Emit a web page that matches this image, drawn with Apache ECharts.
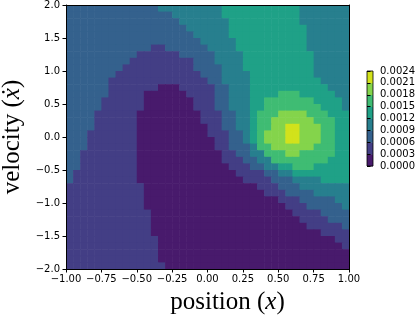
<!DOCTYPE html>
<html>
<head>
<meta charset="utf-8">
<script src="https://cdn.jsdelivr.net/npm/echarts@6/dist/echarts.min.js"></script>
<style>
html, body { margin: 0; padding: 0; background: #fff; }
#chart-panel { width: 416px; height: 322px; }
</style>
</head>
<body>
<div id="chart-panel"></div>
<script>
// contour levels of the colour bar
var levels = [0, 0.0003, 0.0006, 0.0009, 0.0012, 0.0015, 0.0018, 0.0021, 0.0024];
var bandColors = ['#481a6c', '#433e85', '#34618d', '#277f8e', '#1fa187', '#3fbc73', '#84d44b', '#d2e21b'];

// grid of the map: 40 columns of 0.05 in x, 40 rows of 0.1 in y (top row first)
var xStart = -1, xStep = 0.05, nCols = 40;
var yStart = 2, yStep = 0.1;

// band index (0..7), each row run-length coded as [band, count]
var bandRows = [
    [[2,13],[3,9],[4,11],[3,7]],
    [[2,15],[3,7],[4,11],[3,7]],
    [[2,16],[3,7],[4,10],[3,7]],
    [[2,17],[3,6],[4,11],[3,6]],
    [[2,18],[3,5],[4,11],[3,6]],
    [[2,19],[3,5],[4,10],[3,6]],
    [[2,12],[1,2],[2,6],[3,4],[4,10],[3,6]],
    [[2,10],[1,6],[2,5],[3,4],[4,10],[3,5]],
    [[2,9],[1,9],[2,3],[3,4],[4,10],[3,5]],
    [[2,8],[1,10],[2,4],[3,3],[4,10],[3,5]],
    [[2,7],[1,12],[2,3],[3,4],[4,9],[3,5]],
    [[2,6],[1,14],[2,2],[3,4],[4,10],[3,4]],
    [[2,6],[1,7],[0,3],[1,5],[2,2],[3,3],[4,11],[3,3]],
    [[2,6],[1,5],[0,6],[1,4],[2,2],[3,3],[4,4],[5,3],[4,5],[3,2]],
    [[2,5],[1,6],[0,7],[1,3],[2,2],[3,3],[4,2],[5,7],[4,4],[3,1]],
    [[2,5],[1,6],[0,7],[1,3],[2,2],[3,3],[4,2],[5,8],[4,3],[3,1]],
    [[2,4],[1,6],[0,9],[1,3],[2,2],[3,2],[4,1],[5,3],[6,4],[5,3],[4,3]],
    [[2,4],[1,6],[0,9],[1,3],[2,2],[3,2],[4,1],[5,2],[6,6],[5,3],[4,2]],
    [[2,4],[1,6],[0,10],[1,2],[2,2],[3,2],[4,1],[5,2],[6,2],[7,2],[6,3],[5,2],[4,2]],
    [[2,3],[1,7],[0,10],[1,3],[2,2],[3,1],[4,1],[5,1],[6,3],[7,2],[6,3],[5,2],[4,2]],
    [[2,3],[1,7],[0,11],[1,2],[2,2],[3,1],[4,1],[5,1],[6,3],[7,2],[6,3],[5,2],[4,2]],
    [[2,3],[1,7],[0,11],[1,2],[2,3],[3,1],[5,2],[6,6],[5,3],[4,2]],
    [[2,2],[1,8],[0,12],[1,2],[2,2],[3,2],[5,3],[6,2],[5,5],[4,2]],
    [[2,2],[1,8],[0,12],[1,3],[2,2],[3,2],[5,8],[4,3]],
    [[2,2],[1,8],[0,13],[1,3],[2,2],[3,2],[4,2],[5,3],[4,5]],
    [[2,1],[1,9],[0,14],[1,4],[2,2],[3,2],[4,8]],
    [[2,1],[1,9],[0,15],[1,4],[2,3],[3,4],[4,4]],
    [[1,11],[0,16],[1,3],[2,3],[3,7]],
    [[1,11],[0,17],[1,3],[2,4],[3,5]],
    [[1,11],[0,19],[1,3],[2,5],[3,2]],
    [[1,11],[0,20],[1,3],[2,5],[3,1]],
    [[1,12],[0,20],[1,4],[2,4]],
    [[1,12],[0,21],[1,4],[2,3]],
    [[1,12],[0,22],[1,5],[2,1]],
    [[1,12],[0,24],[1,4]],
    [[1,13],[0,25],[1,2]],
    [[1,13],[0,26],[1,1]],
    [[1,13],[0,27]],
    [[1,13],[0,27]],
    [[1,14],[0,26]]
];

var cells = [];
bandRows.forEach(function (runs, j) {
    var y = yStart - yStep * (j + 0.5);
    var i = 0;
    runs.forEach(function (run) {
        for (var k = 0; k < run[1]; k++) {
            cells.push([xStart + xStep * (i + 0.5), y, run[0]]);
            i++;
        }
    });
    if (i !== nCols) console.warn('row ' + j + ' has ' + i + ' cells');
});

var bands = bandColors.map(function (c, idx) {
    return [idx, levels[idx], levels[idx + 1]];
});

function minus(s) { return s.replace('-', '\u2212'); }

var tickFont = { color: '#000', fontSize: 10, fontFamily: 'DejaVu Sans' };
var blackLine = { show: true, onZero: false, lineStyle: { color: '#000', width: 1 } };
var tick = { show: true, length: 3.5, lineStyle: { color: '#000', width: 1 } };

var myChart = echarts.init(document.getElementById('chart-panel'));

myChart.setOption({
    backgroundColor: '#fff',
    animation: false,
    grid: [
        { left: 66, top: 5, width: 283, height: 264, containLabel: false, outerBoundsMode: 'none' },
        { left: 367, top: 71, width: 6, height: 95, containLabel: false, outerBoundsMode: 'none' }
    ],
    xAxis: [
        {
            type: 'value', gridIndex: 0, min: -1, max: 1, interval: 0.25, position: 'bottom', z: 10,
            axisLine: blackLine, axisTick: tick, splitLine: { show: false },
            axisLabel: Object.assign({ margin: 5, showMinLabel: true, showMaxLabel: true,
                formatter: function (v) { return minus(v.toFixed(2)); } }, tickFont),
            name: 'position ({i|x})', nameLocation: 'middle', nameGap: 21,
            nameTextStyle: {
                fontFamily: 'Liberation Serif', fontSize: 25, color: '#000', padding: [0, 0, 0, 40],
                rich: { i: { fontFamily: 'Liberation Serif', fontStyle: 'italic', fontSize: 25, color: '#000' } }
            }
        },
        {
            type: 'value', gridIndex: 0, min: -1, max: 1, position: 'top', z: 10,
            axisLine: blackLine, axisTick: { show: false }, axisLabel: { show: false }, splitLine: { show: false }
        },
        {
            type: 'value', gridIndex: 1, min: 0, max: 1, show: false
        }
    ],
    yAxis: [
        {
            type: 'value', gridIndex: 0, min: -2, max: 2, interval: 0.5, position: 'left', z: 10,
            axisLine: blackLine, axisTick: tick, splitLine: { show: false },
            axisLabel: Object.assign({ margin: 6, showMinLabel: true, showMaxLabel: true,
                formatter: function (v) { return minus(v.toFixed(1)); } }, tickFont),
            name: 'velocity ({i|\u1e8b})', nameLocation: 'middle', nameGap: 40,
            nameTextStyle: {
                fontFamily: 'Liberation Serif', fontSize: 25, color: '#000',
                rich: { i: { fontFamily: 'Liberation Serif', fontStyle: 'italic', fontSize: 25, color: '#000' } }
            }
        },
        {
            type: 'value', gridIndex: 0, min: -2, max: 2, position: 'right', z: 10,
            axisLine: blackLine, axisTick: { show: false }, axisLabel: { show: false }, splitLine: { show: false }
        },
        {
            type: 'value', gridIndex: 1, min: 0, max: 0.0024, interval: 0.0003, position: 'right', z: 10,
            axisLine: { show: false }, axisTick: tick, splitLine: { show: false },
            axisLabel: Object.assign({ margin: 7, showMinLabel: true, showMaxLabel: true,
                formatter: function (v) { return v.toFixed(4); } }, tickFont)
        }
    ],
    series: [
        {
            type: 'custom',
            xAxisIndex: 0, yAxisIndex: 0,
            clip: true,
            silent: true,
            data: cells,
            renderItem: function (params, api) {
                var x = api.value(0), y = api.value(1);
                var p0 = api.coord([x - xStep / 2, y + yStep / 2]);
                var p1 = api.coord([x + xStep / 2, y - yStep / 2]);
                return {
                    type: 'rect',
                    shape: { x: p0[0], y: p0[1], width: p1[0] - p0[0] + 0.6, height: p1[1] - p0[1] + 0.6 },
                    style: { fill: bandColors[api.value(2)] }
                };
            }
        },
        {
            type: 'custom',
            xAxisIndex: 2, yAxisIndex: 2,
            silent: true,
            data: bands,
            renderItem: function (params, api) {
                var p0 = api.coord([0, api.value(2)]);
                var p1 = api.coord([1, api.value(1)]);
                return {
                    type: 'rect',
                    shape: { x: p0[0], y: p0[1], width: p1[0] - p0[0], height: p1[1] - p0[1] + 0.4 },
                    style: { fill: bandColors[api.value(0)] }
                };
            }
        },
        {
            // colour bar outline
            type: 'custom',
            xAxisIndex: 2, yAxisIndex: 2,
            silent: true, z: 5,
            data: [[levels[0], levels[levels.length - 1]]],
            renderItem: function (params, api) {
                var p0 = api.coord([0, api.value(1)]);
                var p1 = api.coord([1, api.value(0)]);
                return {
                    type: 'rect',
                    shape: { x: p0[0], y: p0[1], width: p1[0] - p0[0], height: p1[1] - p0[1] },
                    style: { fill: 'none', stroke: '#000', lineWidth: 0.8 }
                };
            }
        }
    ]
});
</script>
</body>
</html>
